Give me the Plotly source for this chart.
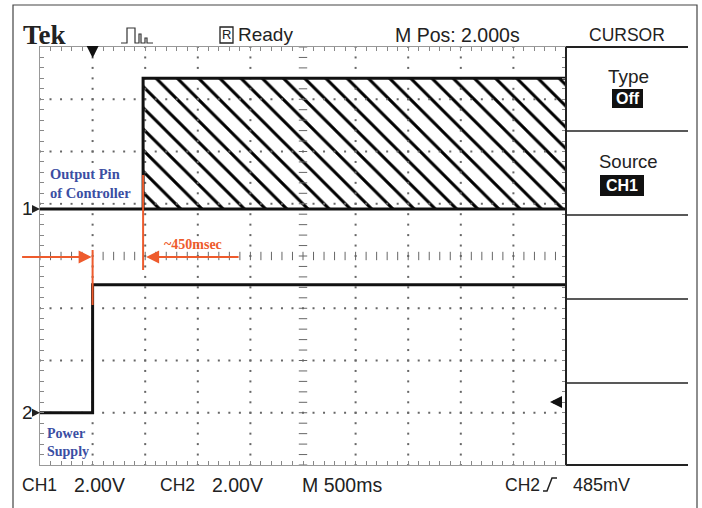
import plotly.graph_objects as go
import numpy as np

# ---------------- data ----------------
sec_per_div = 0.5
volts_per_div = 2.0
screen_divs_x = 10
screen_divs_y = 8
ch1_offset_div = 0.9
ch2_offset_div = -3.0

ch1_time = [0.0, 0.98, 0.98, 5.0]
ch1_volts = [0.0, 0.0, 5.0, 5.0]
ch1_pwm_time = [0.98, 5.0]
ch1_pwm_low = [0.0, 0.0]
ch1_pwm_high = [5.0, 5.0]

ch2_time = [0.0, 0.5, 0.5, 5.0]
ch2_volts = [0.0, 0.0, 4.9, 4.9]

ch2_step_time = 0.5
ch1_step_time = 0.98

delay_label = "~450msec"
ch1_note = "Output Pin<br>of Controller"
ch2_note = "Power<br>Supply"
header_labels = ["Ready", "M Pos: 2.000s", "CURSOR"]
footer_labels = ["CH1", "2.00V", "CH2", "2.00V", "M 500ms", "CH2", "485mV"]
menu_titles = ["Type", "Source"]
menu_values = ["Off", "CH1"]

# ---------------- helpers ----------------
W, H = 702, 508
SCR_L, SCR_R, SCR_T, SCR_B = 40, 566, 47, 465


def px(x):
    return x / W


def py(y):
    return 1 - y / H


def to_div(volts, offset):
    return [offset + v / volts_per_div for v in volts]


SCOPE_FONT = "Liberation Sans, Arial, sans-serif"
SERIF = "Liberation Serif, DejaVu Serif, serif"
ORANGE = "#ee5b2d"
BLUE = "#3b4ea3"

t_max = screen_divs_x * sec_per_div
y_half = screen_divs_y / 2

fig = go.Figure()

# hatched PWM region on CH1
lo = to_div(ch1_pwm_low, ch1_offset_div)
hi = to_div(ch1_pwm_high, ch1_offset_div)
fig.add_trace(go.Scatter(
    x=[ch1_pwm_time[0], ch1_pwm_time[1], ch1_pwm_time[1], ch1_pwm_time[0], ch1_pwm_time[0]],
    y=[lo[0], lo[1], hi[1], hi[0], lo[0]],
    fill="toself", mode="lines", line=dict(width=0, color="rgba(0,0,0,0)"),
    fillcolor="rgba(0,0,0,0)",
    fillpattern=dict(shape="\\", fgcolor="#000", fgopacity=1, bgcolor="rgba(0,0,0,0)",
                     size=15, solidity=0.2),
    hoverinfo="skip", showlegend=False))

# grid dots
minor_y = np.round(np.arange(-y_half, y_half + 1e-9, 0.2), 3)
minor_x = np.round(np.arange(0, t_max + 1e-9, sec_per_div / 5), 3)
gx, gy = [], []
for i in range(1, screen_divs_x):
    if i == screen_divs_x // 2:
        continue
    for yy in minor_y:
        gx.append(i * sec_per_div)
        gy.append(yy)
for j in range(-int(y_half) + 1, int(y_half)):
    if j == 0:
        continue
    for xx in minor_x:
        gx.append(xx)
        gy.append(j)
fig.add_trace(go.Scatter(x=gx, y=gy, mode="markers",
                         marker=dict(symbol="square", size=2, color="#666"),
                         hoverinfo="skip", showlegend=False))

# center graticule ticks
fig.add_trace(go.Scatter(x=minor_x, y=[0] * len(minor_x), mode="markers",
                         marker=dict(symbol="line-ns", size=6, line=dict(width=1, color="#666")),
                         hoverinfo="skip", showlegend=False))
fig.add_trace(go.Scatter(x=[t_max / 2] * len(minor_y), y=minor_y, mode="markers",
                         marker=dict(symbol="line-ew", size=6, line=dict(width=1, color="#666")),
                         hoverinfo="skip", showlegend=False))

# traces
fig.add_trace(go.Scatter(x=ch1_time, y=to_div(ch1_volts, ch1_offset_div), mode="lines",
                         line=dict(color="#111", width=3), hoverinfo="skip", showlegend=False))
fig.add_trace(go.Scatter(x=ch1_pwm_time, y=lo, mode="lines",
                         line=dict(color="#111", width=3), hoverinfo="skip", showlegend=False))
fig.add_trace(go.Scatter(x=ch2_time, y=to_div(ch2_volts, ch2_offset_div), mode="lines",
                         line=dict(color="#111", width=3), hoverinfo="skip", showlegend=False))

shapes = []
# outer border
shapes.append(dict(type="rect", xref="paper", yref="paper", x0=px(13), x1=px(697), y0=py(520), y1=py(5),
                   line=dict(color="#444", width=1.2)))
# screen right edge
shapes.append(dict(type="line", xref="paper", yref="paper", x0=px(SCR_R), x1=px(SCR_R), y0=py(SCR_T), y1=py(SCR_B),
                   line=dict(color="#222", width=2)))
# menu dividers
for i, yy in enumerate([47, 131, 215, 299, 383, 465]):
    shapes.append(dict(type="line", xref="paper", yref="paper", x0=px(SCR_R), x1=px(688), y0=py(yy), y1=py(yy),
                       line=dict(color="#222", width=2 if i in (0, 5) else 1.6)))
# orange markers
shapes.append(dict(type="line", xref="x", yref="paper", x0=ch1_step_time, x1=ch1_step_time, y0=py(175), y1=py(270),
                   line=dict(color=ORANGE, width=2)))
shapes.append(dict(type="line", xref="x", yref="paper", x0=ch2_step_time, x1=ch2_step_time, y0=py(250), y1=py(305),
                   line=dict(color=ORANGE, width=2)))
# R box
shapes.append(dict(type="rect", xref="paper", yref="paper", x0=px(220), x1=px(233), y0=py(43), y1=py(27),
                   line=dict(color="#222", width=1.3)))
# pulse icon
shapes.append(dict(type="path", xref="paper", yref="paper",
                   path="M{},{} L{},{} L{},{} L{},{} L{},{} L{},{} L{},{} L{},{} L{},{} L{},{} L{},{} L{},{} L{},{} L{},{}".format(
                       px(121), py(43), px(127), py(43), px(127), py(28), px(135), py(28), px(135), py(43),
                       px(139), py(43), px(139), py(34), px(141), py(34), px(141), py(43), px(145), py(43),
                       px(145), py(38), px(147), py(38), px(147), py(43), px(153), py(43)),
                   line=dict(color="#333", width=1.2)))
# trigger slope icon
shapes.append(dict(type="path", xref="paper", yref="paper",
                   path="M{},{} L{},{} L{},{} L{},{}".format(px(543), py(491), px(547), py(491), px(552), py(478), px(557), py(478)),
                   line=dict(color="#222", width=1.5)))
# inverted menu value boxes
shapes.append(dict(type="rect", xref="paper", yref="paper", x0=px(612), x1=px(643), y0=py(108), y1=py(89),
                   fillcolor="#111", line=dict(width=0)))
shapes.append(dict(type="rect", xref="paper", yref="paper", x0=px(600), x1=px(644), y0=py(196), y1=py(175),
                   fillcolor="#111", line=dict(width=0)))

ann = []


def text(x, y, s, size=20, color="#222", family=SCOPE_FONT, xanchor="left", **kw):
    ann.append(dict(x=px(x), y=py(y), xref="paper", yref="paper", text=s, showarrow=False,
                    xanchor=xanchor, yanchor="middle", font=dict(size=size, color=color, family=family), **kw))


text(21, 35, "<b>Tek</b>", size=27, color="#222", family=SERIF)
text(226.5, 35, "R", size=13, xanchor="center")
text(236, 35, header_labels[0], size=19)
text(393, 35, header_labels[1], size=19.5)
text(627, 35, header_labels[2], size=17.5, xanchor="center")
text(628, 77, menu_titles[0], size=19, xanchor="center")
text(627.5, 98.5, "<b>" + menu_values[0] + "</b>", size=16, color="white", xanchor="center")
text(628, 161, menu_titles[1], size=18.5, xanchor="center")
text(622, 185.5, "<b>" + menu_values[1] + "</b>", size=16, color="white", xanchor="center")

foot_x = [20, 72, 158, 210, 300, 503, 571]
foot_sz = [17.5, 19.5, 17.5, 19.5, 19.5, 17.5, 18]
for x, s, fs in zip(foot_x, footer_labels, foot_sz):
    text(x, 485, s, size=fs)

# notes
ann.append(dict(x=px(48), y=py(183), xref="paper", yref="paper", text="<b>" + ch1_note + "</b>", showarrow=False,
                xanchor="left", yanchor="middle", align="left", bgcolor="white",
                font=dict(size=14.5, color=BLUE, family=SERIF)))
ann.append(dict(x=px(45), y=py(442), xref="paper", yref="paper", text="<b>" + ch2_note + "</b>", showarrow=False,
                xanchor="left", yanchor="middle", align="left",
                font=dict(size=14, color=BLUE, family=SERIF)))
ann.append(dict(x=px(193), y=py(244), xref="paper", yref="paper", text="<b>" + delay_label + "</b>", showarrow=False,
                xanchor="center", yanchor="middle", font=dict(size=14, color=ORANGE, family=SERIF)))

# orange arrows (head at step times)
ann.append(dict(x=ch2_step_time, y=py(257), xref="x", yref="paper", text="", showarrow=True,
                ax=-72, ay=0, arrowhead=2, arrowsize=1.3, arrowwidth=2, arrowcolor=ORANGE, standoff=1))
ann.append(dict(x=ch1_step_time, y=py(257), xref="x", yref="paper", text="", showarrow=True,
                ax=97, ay=0, arrowhead=2, arrowsize=1.3, arrowwidth=2, arrowcolor=ORANGE, standoff=3))

# channel ground markers
for lbl, off in (("1", ch1_offset_div), ("2", ch2_offset_div)):
    ann.append(dict(x=0, y=off, xref="x", yref="y", text=lbl, showarrow=True, ax=-13, ay=0,
                    arrowhead=2, arrowsize=1, arrowwidth=1.6, arrowcolor="#222", standoff=0,
                    font=dict(size=19, color="#222", family=SCOPE_FONT)))
# trigger position marker (top) and trigger level marker (right)
ann.append(dict(x=ch2_step_time, y=py(58), xref="x", yref="paper", text="", showarrow=True, ax=0, ay=-12,
                arrowhead=2, arrowsize=0.8, arrowwidth=3, arrowcolor="#111", standoff=0))
ann.append(dict(x=px(550), y=py(402), xref="paper", yref="paper", text="", showarrow=True, ax=12, ay=0,
                arrowhead=2, arrowsize=0.8, arrowwidth=3, arrowcolor="#111", standoff=0))

axis_common = dict(showgrid=False, zeroline=False, showticklabels=False, ticks="inside", ticklen=4,
                   tickcolor="#888", showline=True, linecolor="#999", linewidth=1, mirror="ticks")

fig.update_layout(
    width=W, height=H, margin=dict(l=0, r=0, t=0, b=0),
    paper_bgcolor="white", plot_bgcolor="white",
    xaxis=dict(domain=[px(SCR_L), px(SCR_R)], range=[0, t_max], tick0=0, dtick=sec_per_div / 5, **axis_common),
    yaxis=dict(domain=[py(SCR_B), py(SCR_T)], range=[-y_half, y_half], tick0=0, dtick=0.2, **axis_common),
    shapes=shapes, annotations=ann, showlegend=False,
)

fig.write_html("out.html", config={"displayModeBar": False, "staticPlot": True},
               post_script="document.body.style.margin='0px';document.body.style.overflow='hidden';")
